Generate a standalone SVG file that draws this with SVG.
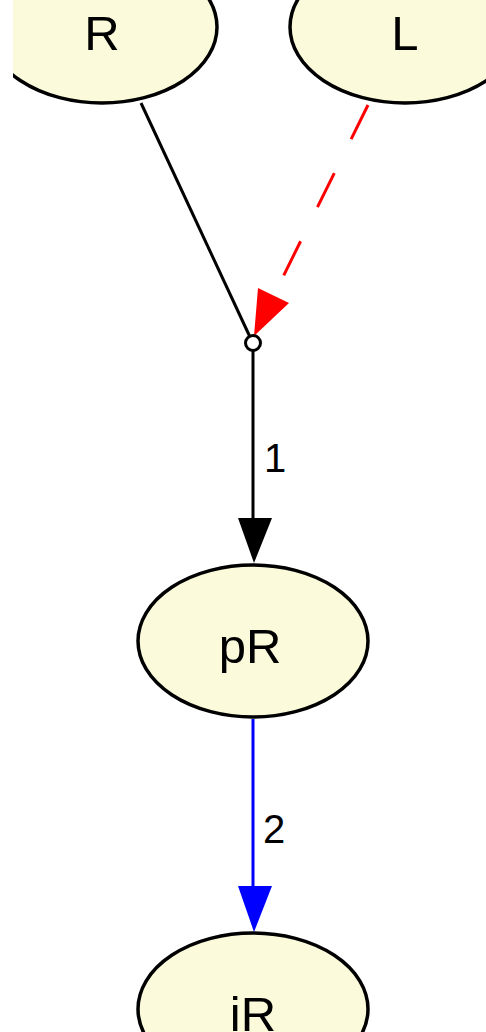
<svg xmlns="http://www.w3.org/2000/svg" width="486" height="1032" viewBox="0 0 486 1032">
  <style>
    .node ellipse { fill: #fbfadb; stroke: #000; stroke-width: 3.5; }
    .node text { font-family: "Liberation Sans", Arial, sans-serif; font-size: 49px; text-anchor: middle; fill: #000; }
    .lbl { font-family: "Liberation Sans", Arial, sans-serif; font-size: 40px; fill: #000; }
    .edge { fill: none; stroke-width: 3; }
  </style>
  <defs>
    <clipPath id="leftCut"><rect x="13" y="0" width="473" height="1032"/></clipPath>
  </defs>
  <rect width="486" height="1032" fill="#fff"/>

  <g id="node-R" class="node" clip-path="url(#leftCut)">
    <ellipse cx="102" cy="27" rx="115" ry="76"/>
    <text x="102" y="50">R</text>
  </g>
  <g id="node-L" class="node">
    <ellipse cx="405" cy="27" rx="115" ry="76"/>
    <text x="405" y="50">L</text>
  </g>
  <g id="node-pR" class="node">
    <ellipse cx="253" cy="641" rx="115" ry="76"/>
    <text x="250" y="663">pR</text>
  </g>
  <g id="node-iR" class="node">
    <ellipse cx="253" cy="1009" rx="115" ry="76"/>
    <text x="253" y="1031">iR</text>
  </g>

  <g id="connectors">
    <!-- R to junction -->
    <line class="edge" x1="141" y1="103" x2="250" y2="337" stroke="#000"/>
    <!-- L to junction, dashed red -->
    <line class="edge" x1="368" y1="105" x2="274" y2="295" stroke="#f00" stroke-dasharray="38,38"/>
    <polygon points="254,336 258,288 289,303" fill="#f00"/>
    <!-- junction to pR -->
    <line class="edge" x1="253" y1="350" x2="253" y2="520" stroke="#000"/>
    <polygon points="238,518 272,518 254,563" fill="#000"/>
    <text class="lbl" x="264" y="472">1</text>
    <!-- pR to iR -->
    <line class="edge" x1="253" y1="719" x2="253" y2="888" stroke="#00f"/>
    <polygon points="238,886 272,886 254,932" fill="#00f"/>
    <text class="lbl" x="263" y="843">2</text>
    <!-- junction point -->
    <circle cx="253" cy="343" r="7.5" fill="#fff" stroke="#000" stroke-width="3"/>
  </g>
</svg>
